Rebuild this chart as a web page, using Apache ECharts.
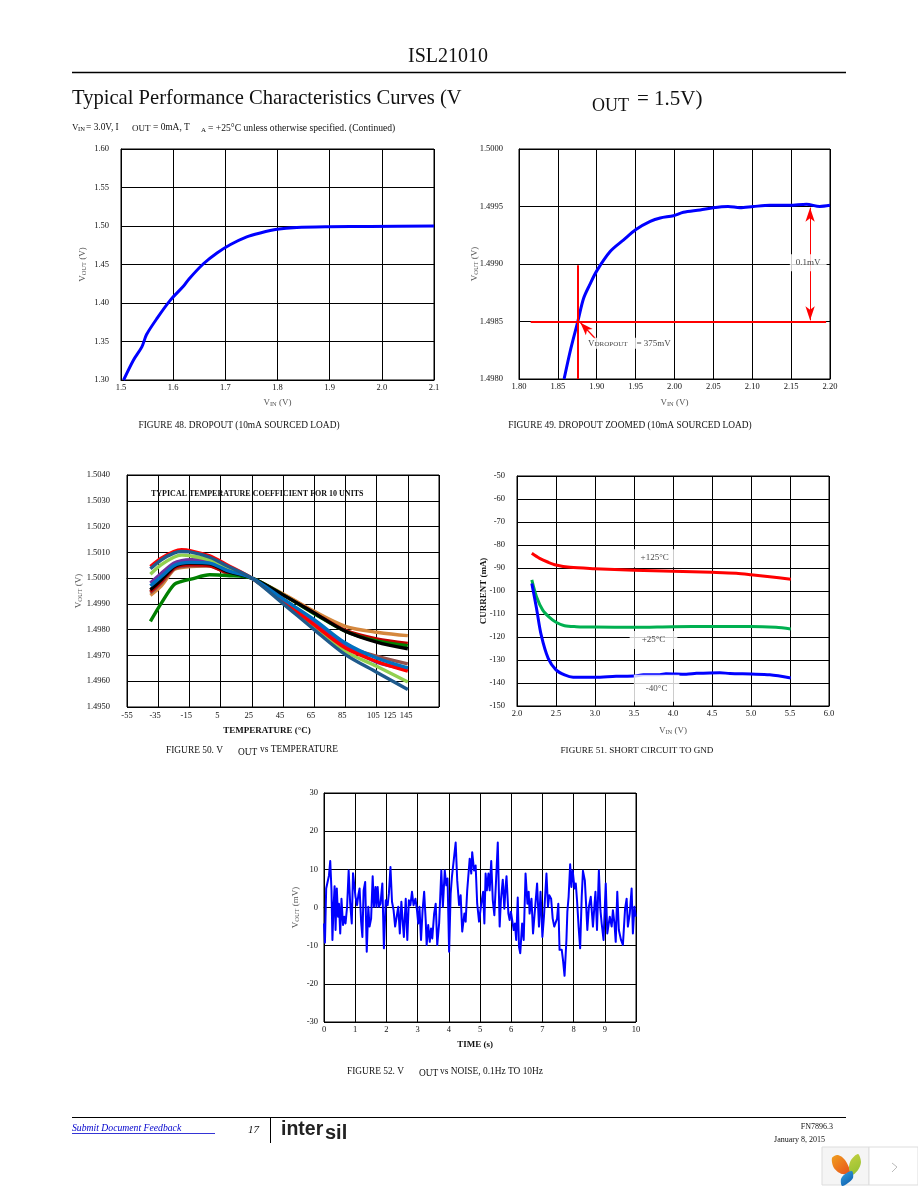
<!DOCTYPE html>
<html><head><meta charset="utf-8">
<style>html,body{margin:0;padding:0;background:#fff}#c{width:918px;height:1188px}</style>
<script src="https://cdn.jsdelivr.net/npm/echarts@6/dist/echarts.min.js"></script>
</head><body><div id="c"></div>
<script>
// ---------- Figure 48
const fig48Vin=[1.505,1.524,1.54,1.549,1.569,1.595,1.62,1.63,1.658,1.684,1.71,1.741,1.767,1.799,1.837,1.9,1.978,2.1];
const fig48Vout=[1.30,1.326,1.343,1.359,1.38,1.404,1.422,1.431,1.451,1.465,1.476,1.486,1.491,1.4957,1.498,1.499,1.4995,1.5];
const fig48XTicks=['1.5','1.6','1.7','1.8','1.9','2.0','2.1'];
const fig48YTicks=['1.30','1.35','1.40','1.45','1.50','1.55','1.60'];
// ---------- Figure 49
const fig49Vin=[1.858,1.8665,1.8756,1.883,1.891,1.9,1.9175,1.9346,1.9504,1.9688,1.9816,1.9987,2.0115,2.033,2.05,2.069,2.0842,2.1013,2.1226,2.148,2.1697,2.1868,2.2];
const fig49Vout=[1.498,1.49826,1.4985,1.4987,1.49882,1.49894,1.49911,1.49921,1.4993,1.49937,1.4994,1.49942,1.49945,1.49947,1.49949,1.4995,1.49949,1.4995,1.49951,1.49951,1.49952,1.4995,1.49951];
const fig49XTicks=['1.80','1.85','1.90','1.95','2.00','2.05','2.10','2.15','2.20'];
const fig49YTicks=['1.4980','1.4985','1.4990','1.4995','1.5000'];
// ---------- Figure 50 (deviation from 1.5000 V in mV)
const fig50Temp=[-40,-33,-25,-20,-14,-2,9,25,45,65,85,105,125];
const fig50Orange=[-.67,-.3,.32,.41,.45,.48,.3,0,-.61,-1.29,-1.87,-2.1,-2.23];
const fig50Brown=[-.58,-.19,.35,.45,.48,.48,.19,0,-.81,-1.68,-2.61,-3.03,-3.33];
const fig50Purple=[-.19,.19,.58,.68,.71,.67,.32,0,-.84,-1.68,-2.58,-3.26,-3.52];
const fig50DarkRed=[-.52,-.13,.39,.5,.52,.48,.22,0,-.65,-1.35,-2.03,-2.36,-2.53];
const fig50DarkGreen=[-1.68,-.97,-.26,-.13,-.04,.13,.1,0,-.65,-1.38,-2.06,-2.44,-2.62];
const fig50Black=[-.45,-.06,.43,.55,.58,.55,.26,0,-.65,-1.35,-2.06,-2.48,-2.74];
const fig50LightGreen=[.15,.52,.81,.89,.86,.71,.43,0,-.94,-1.87,-2.84,-3.42,-4.03];
const fig50Red=[.45,.77,1.03,1.1,1.06,.86,.52,0,-.9,-1.81,-2.71,-3.23,-3.61];
const fig50Blue=[-.3,.06,.48,.58,.61,.58,.3,0,-.81,-1.61,-2.52,-3.1,-3.48];
const fig50Navy=[.36,.71,.97,1.03,1.01,.81,.48,0,-.99,-2.0,-2.97,-3.65,-4.32];
const fig50XTicks=['-55','-35','-15','5','25','45','65','85','105','125','145'];
const fig50YTicks=['1.4950','1.4960','1.4970','1.4980','1.4990','1.5000','1.5010','1.5020','1.5030','1.5040'];
// ---------- Figure 51
const fig51VinHot=[2.19,2.29,2.4,2.5,2.68,3,3.5,4,4.5,4.81,5,5.24,5.51];
const fig51Hot=[-83.6,-85.8,-87.5,-88.7,-89.7,-90.3,-91,-91.4,-91.9,-92.3,-92.9,-93.8,-94.9];
const fig51VinRoom=[2.19,2.25,2.33,2.42,2.5,2.61,2.76,3,3.5,4,4.5,5,5.32,5.51];
const fig51Room=[-95.2,-102.5,-108.3,-111.6,-113.6,-115.1,-115.5,-115.7,-115.8,-115.5,-115.4,-115.4,-115.8,-116.5];
const fig51VinCold=[2.19,2.25,2.31,2.4,2.5,2.61,2.72,3,3.27,3.5,3.62,3.83,3.91,4.17,4.3,4.6,4.73,5,5.24,5.51];
const fig51Cold=[-96.7,-107.5,-119.1,-129.3,-134.3,-136.5,-137.5,-137.5,-137.1,-137,-136.4,-136.4,-136,-136.2,-135.8,-135.5,-135.9,-136.1,-136.4,-137.8];
const fig51XTicks=['2.0','2.5','3.0','3.5','4.0','4.5','5.0','5.5','6.0'];
const fig51YTicks=['-150','-140','-130','-120','-110','-100','-90','-80','-70','-60','-50'];
// ---------- Figure 52
const fig52Time=[0,.03,.07,.12,.16,.2,.24,.27,.31,.34,.37,.41,.45,.48,.52,.56,.61,.65,.69,.74,.79,.84,.89,.93,.97,1.01,1.06,1.1,1.14,1.19,1.23,1.27,1.32,1.37,1.42,1.46,1.51,1.56,1.6,1.65,1.68,1.72,1.76,1.81,1.87,1.92,1.98,2.04,2.08,2.13,2.18,2.23,2.28,2.33,2.38,2.43,2.48,2.53,2.56,2.62,2.67,2.72,2.77,2.82,2.87,2.93,2.98,3.02,3.06,3.11,3.16,3.21,3.26,3.29,3.34,3.39,3.43,3.47,3.53,3.58,3.63,3.69,3.76,3.81,3.87,3.92,3.96,4.01,4.06,4.1,4.16,4.22,4.27,4.33,4.38,4.43,4.5,4.54,4.59,4.67,4.72,4.75,4.81,4.86,4.91,4.97,
4.99,5.04,5.1,5.14,5.18,5.22,5.27,5.31,5.36,5.41,5.46,5.51,5.57,5.63,5.67,5.73,5.78,5.82,5.85,5.91,5.95,5.99,6.04,6.08,6.12,6.16,6.21,6.25,6.29,6.35,6.4,6.46,6.52,6.56,6.59,6.65,6.7,6.76,6.83,6.89,6.94,7,7.05,7.13,7.18,7.22,7.28,7.33,7.38,7.43,7.47,7.51,7.55,7.62,7.66,7.71,7.77,7.8,7.84,7.89,7.93,7.97,8.03,8.07,8.11,8.16,8.21,8.26,8.3,8.36,8.41,8.44,8.49,8.55,8.62,8.7,8.75,8.81,8.86,8.9,8.96,9.03,9.08,9.16,9.22,9.26,9.31,9.35,9.4,9.45,9.52,9.58,9.65,9.7,9.74,9.8,9.86,9.9,9.95,9.99];
const fig52Noise=[-4.2,-9.2,5,5.4,8.4,12.2,4.5,-8.5,1,5.6,-5.9,5,-2.4,1,-6.8,2.3,-4.6,-2.4,-4.2,.2,9.7,1,-4.2,9,9.3,2.8,.6,3.2,5,-3.7,-7.7,4.5,6.7,-11.6,.2,-5,-2.9,8.2,.2,5.4,.2,5.4,.2,1,6.3,-10.7,1.9,.6,3.7,10.6,1.5,-.7,-5,-5,.2,-6.8,1.5,-4.6,-7.7,2.3,-8.5,1.9,.6,4.1,.6,2.3,-.7,-4.2,.2,-8.5,-.7,4.1,-3.3,-9.8,-4.6,-9,-5.5,-8.1,-1.6,1,-9.8,-4.2,9.7,.2,9.7,5.8,7.6,-11.6,3.7,8,8.4,17,7.1,.6,3.2,-6.3,-1.6,-3.7,4.5,12.8,8.9,14.5,9.7,11,1,-3.7,
-2.4,1,4.1,-4.2,8.9,4.5,8.9,4.5,12.2,1.9,-2,6.3,17,-5,1.9,7.3,-.3,5.4,8.2,-1.6,-3.3,-1.1,-.7,-5.9,-4.2,-8.5,2.6,-10.3,-12,-4.2,-8.5,8.9,1,4.1,-1.6,2.3,-6.8,-6.8,6.3,-5,4.1,-7.7,-2.4,8.9,.2,3.2,2.3,-2.9,-5,-5,-2.9,1,-11.1,-11.1,-13.7,-17.9,-8.5,-1.1,2.8,11.3,5.4,9.7,5,6.3,1.9,-5,-10.7,2.8,9.6,7.1,-.7,-5.9,.2,2.8,-5,4.1,-5.9,9.7,-.7,-4.2,-8.5,6.3,-6.8,-2.4,-5,-.7,-4.2,-9,4.1,-5.9,-8.5,-9.8,-.3,2.3,-5,-1.6,5,-6.8,.2,-2.4];
const fig52XTicks=['0','1','2','3','4','5','6','7','8','9','10'];
const fig52YTicks=['-30','-20','-10','0','10','20','30'];

const SERIF='"Liberation Serif","Times New Roman",serif';
const INK='#111';
const TICK=8.5;
const rich={a:{fontFamily:SERIF,fontSize:9,color:'#555'},b:{fontFamily:SERIF,fontSize:6.5,color:'#555',verticalAlign:'bottom',padding:[3,0,0,0]}};
const zip=(a,b)=>a.map((v,i)=>[v,b[i]]);

function xAxis(i,min,max,interval,labels,name,gap,extra){
  return Object.assign({gridIndex:i,type:'value',min,max,interval,name,nameLocation:'middle',nameGap:gap,nameMoveOverlap:false,
    nameTextStyle:{rich,fontFamily:SERIF,fontSize:9,color:'#555'},
    axisLine:{lineStyle:{color:'#000',width:1}},axisTick:{show:false},
    splitLine:{show:true,lineStyle:{color:'#000',width:1}},
    axisLabel:{margin:3,fontFamily:SERIF,fontSize:TICK,color:INK,hideOverlap:false,showMinLabel:true,showMaxLabel:true,formatter:(v,k)=>labels[k]}},extra||{});
}
function yAxis(i,min,max,interval,labels,name,gap,margin){
  return {gridIndex:i,type:'value',min,max,interval,name,nameLocation:'middle',nameGap:gap,nameRotate:90,nameMoveOverlap:false,
    nameTextStyle:{rich,fontFamily:SERIF,fontSize:9,color:'#555'},
    axisLine:{lineStyle:{color:'#000',width:1}},axisTick:{show:false},
    splitLine:{show:true,lineStyle:{color:'#000',width:1}},
    axisLabel:{margin,fontFamily:SERIF,fontSize:TICK,color:INK,showMinLabel:true,showMaxLabel:true,formatter:(v,k)=>labels[k]}};
}
function line(i,data,color,width,smooth){
  return {type:'line',xAxisIndex:i,yAxisIndex:i,data,showSymbol:false,symbol:'none',smooth:smooth||false,silent:true,z:3,
    lineStyle:{color,width,join:'round'},clip:true};
}
function boxLabel(i,x,y,text,pad,extraRich){
  return {type:'scatter',xAxisIndex:i,yAxisIndex:i,data:[[x,y]],symbolSize:1,itemStyle:{color:'rgba(0,0,0,0)'},silent:true,z:6,
    label:{show:true,position:'inside',formatter:text,fontFamily:SERIF,fontSize:9,color:INK,backgroundColor:'#fff',padding:pad,rich:extraRich||{}}};
}
function refLine(i,a,b,color,width,symbols,size){
  return {type:'line',xAxisIndex:i,yAxisIndex:i,data:[],silent:true,z:5,
    markLine:{silent:true,animation:false,symbol:symbols,symbolSize:size,label:{show:false},
      lineStyle:{color,width,type:'solid'},emphasis:{disabled:true},data:[[{coord:a},{coord:b}]]}};
}
const FIG50_SHIFT=55; // axis runs 0..200 so that its 20 step gridlines start at -55
const at=t=>t+FIG50_SHIFT;
const fig50LabelAt=[0,18,38,58,78,98,118,138,158,168.5,179];
const fig50Rows=[[fig50Orange,'#d5883e'],[fig50Brown,'#95504a'],[fig50Purple,'#7030a0'],[fig50DarkRed,'#c00000'],[fig50DarkGreen,'#008000'],[fig50Black,'#000000'],[fig50LightGreen,'#92d050'],[fig50Red,'#ff0000'],[fig50Blue,'#0070c0'],[fig50Navy,'#1f5a8c']];

const grid=[
 {left:121,top:149,width:313,height:231},
 {left:519,top:149,width:311,height:230},
 {left:127,top:475,width:312,height:232},
 {left:517,top:476,width:312,height:230},
 {left:324,top:793,width:312,height:229}
].map(g=>Object.assign(g,{show:true,borderColor:'#000',borderWidth:1,backgroundColor:'transparent'}));

const vout='{a|V}{b|OUT}{a| (V)}', vin='{a|V}{b|IN}{a| (V)}';
const xAxes=[
 xAxis(0,1.5,2.1,0.1,fig48XTicks,vin,18),
 xAxis(1,1.8,2.2,0.05,fig49XTicks,vin,19),
 xAxis(2,0,200,20,fig50XTicks,'TEMPERATURE (°C)',19,{nameTextStyle:{fontFamily:SERIF,fontSize:9,fontWeight:'bold',color:INK,padding:[0,32,0,0]},
   axisLabel:{margin:4,fontFamily:SERIF,fontSize:TICK,color:INK,hideOverlap:false,customValues:fig50LabelAt,formatter:(v)=>fig50XTicks[fig50LabelAt.indexOf(v)]}}),
 xAxis(3,2,6,0.5,fig51XTicks,vin,20),
 xAxis(4,0,10,1,fig52XTicks,'TIME (s)',18,{nameTextStyle:{fontFamily:SERIF,fontSize:9,fontWeight:'bold',color:INK,padding:[0,10,0,0]}})
];
const yAxes=[
 yAxis(0,1.3,1.6,0.05,fig48YTicks,vout,33,12),
 yAxis(1,1.498,1.5,0.0005,fig49YTicks,vout,39,16),
 yAxis(2,-5,4,1,fig50YTicks,vout,43,17),
 yAxis(3,-150,-50,10,fig51YTicks,'CURRENT (mA)',29,12),
 yAxis(4,-30,30,10,fig52YTicks,'{a|V}{b|OUT}{a| (mV)}',23,6)
];
yAxes[3].nameTextStyle={fontFamily:SERIF,fontSize:9,fontWeight:'bold',color:INK};

const series=[
 line(0,zip(fig48Vin,fig48Vout),'#0000ff',3,0.3),
 line(1,zip(fig49Vin,fig49Vout),'#0000ff',3,0.3),
 refLine(1,[1.815,1.4985],[2.195,1.4985],'#ff0000',2,['none','none'],0),
 refLine(1,[1.876,1.498],[1.876,1.49899],'#ff0000',2,['none','none'],0),
 refLine(1,[2.1744,1.49949],[2.1744,1.49851],'#ff0000',1,['arrow','arrow'],[7,14]),
 refLine(1,[1.8983,1.49835],[1.879,1.49849],'#ff0000',1.3,['none','arrow'],[7,13]),
 boxLabel(1,2.172,1.49901,'0.1mV',[4,6,4,6]),
 boxLabel(1,1.942,1.49831,'{v|V}{s|DROPOUT}    = 375mV',[1,2,1,2],{v:{fontFamily:SERIF,fontSize:9,color:INK},s:{fontFamily:SERIF,fontSize:7,color:INK,verticalAlign:'bottom'}})
];
fig50Rows.forEach(r=>series.push(line(2,fig50Temp.map((t,k)=>[at(t),r[0][k]]),r[1],3.4,0.3)));
series.push(
 line(3,zip(fig51VinHot,fig51Hot),'#ff0000',3,0.3),
 line(3,zip(fig51VinRoom,fig51Room),'#00b050',3,0.3),
 line(3,zip(fig51VinCold,fig51Cold),'#0000ff',3,0.3),
 boxLabel(3,3.765,-85.8,'+125°C',[4,11,5,11]),
 boxLabel(3,3.75,-121.3,'+25°C',[4,12,5,12]),
 boxLabel(3,3.79,-142.3,'-40°C',[9,12,9,12]),
 line(4,zip(fig52Time,fig52Noise),'#0000ff',2)
);

function T(x,y,text,o){
  o=o||{};
  return {type:'text',x,y,silent:true,z:20,style:{text,fontFamily:o.f||SERIF,fontSize:o.s||9,fontWeight:o.w||'normal',fontStyle:o.i||'normal',fill:o.c||INK,align:o.a||'left',verticalAlign:'middle'}};
}
function L(x1,y1,x2,y2,w,c){return {type:'line',silent:true,z:20,shape:{x1,y1,x2,y2},style:{stroke:c||'#000',lineWidth:w||1}};}
function leaf(points,c1,c2){
  return {type:'polygon',silent:true,z:21,shape:{points,smooth:0.3},style:{fill:new echarts.graphic.LinearGradient(0,0,1,1,[{offset:0,color:c1},{offset:1,color:c2}])}};
}
const SANS='"Liberation Sans",Arial,sans-serif';
const graphics=[
 T(448,57,'ISL21010',{a:'center',s:20}),
 L(72,72.5,846,72.5,1.3),
 T(72,99,'Typical Performance Characteristics Curves (V',{s:20.6}),
 T(592,106,'OUT',{s:18}),
 T(637,99,'= 1.5V)',{s:21}),
 T(72,128,'V',{s:9}),T(78,129,'IN',{s:6.5}),T(86,128,'= 3.0V, I',{s:9.4}),
 T(132,129,'OUT',{s:9}),T(153,128,'= 0mA, T',{s:9.4}),T(201,130,'A',{s:7}),
 T(208,128,'= +25°C unless otherwise specified. (Continued)',{s:9.6}),
 T(239,426,'FIGURE 48. DROPOUT (10mA SOURCED LOAD)',{a:'center',s:9.4}),
 T(630,426,'FIGURE 49. DROPOUT ZOOMED (10mA SOURCED LOAD)',{a:'center',s:9.4}),
 T(166,751,'FIGURE 50. V',{s:9.4}),T(238,753,'OUT',{s:9.4}),T(260,750,'vs TEMPERATURE',{s:9.4}),
 T(637,751,'FIGURE 51. SHORT CIRCUIT TO GND',{a:'center',s:9.1}),
 T(347,1072,'FIGURE 52. V',{s:9.4}),T(419,1074,'OUT',{s:9.4}),T(440,1072,'vs NOISE, 0.1Hz TO 10Hz',{s:9.4}),
 T(151,494,'TYPICAL TEMPERATURE COEFFICIENT FOR 10 UNITS',{s:8,w:'bold'}),
 L(72,1117.5,846,1117.5,1),
 L(72,1133.5,215,1133.5,0.8,'#0000cc'),
 T(72,1128,'Submit Document Feedback',{s:9.7,i:'italic',c:'#0000cc'}),
 T(248,1130,'17',{s:11,i:'italic'}),
 L(270.5,1117,270.5,1143,1),
 T(281,1130,'inter',{f:SANS,s:19.5,w:'bold',c:'#222'}),
 T(325,1133,'sil',{f:SANS,s:20,w:'bold',c:'#222'}),
 T(833,1127,'FN7896.3',{a:'right',s:8}),
 T(825,1140,'January 8, 2015',{a:'right',s:8}),
 {type:'rect',silent:true,z:20,shape:{x:822,y:1147,width:47,height:38},style:{fill:'#f5f5f5',stroke:'#dddddd',lineWidth:1}},
 {type:'rect',silent:true,z:20,shape:{x:869,y:1147,width:49,height:38},style:{fill:'#ffffff',stroke:'#dddddd',lineWidth:1}},
 leaf([[832,1158],[838,1155],[845,1160],[850,1172],[842,1174],[834,1168]],'#f0a020','#e8501a'),
 leaf([[858,1154],[861,1162],[858,1170],[852,1175],[849,1168],[851,1160]],'#c4d040','#8fbf30'),
 leaf([[852,1171],[853,1178],[848,1183],[842,1186],[841,1179],[845,1174]],'#35a0e0','#0a58a8'),
 {type:'polyline',silent:true,z:21,shape:{points:[[892,1163],[897,1167],[892,1172]]},style:{stroke:'#bbbbbb',lineWidth:1,fill:'none'}}
];

const chart=echarts.init(document.getElementById('c'),null,{renderer:'canvas',width:918,height:1188});
chart.setOption({animation:false,backgroundColor:'#ffffff',tooltip:{show:false},legend:{show:false},grid,xAxis:xAxes,yAxis:yAxes,series,graphic:graphics});
</script></body></html>
